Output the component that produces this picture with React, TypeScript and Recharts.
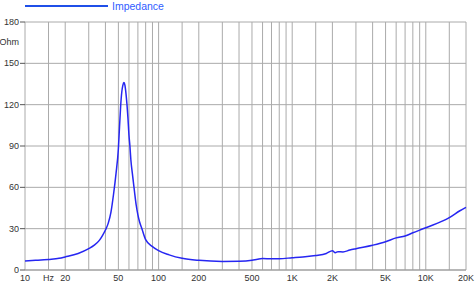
import { LineChart, Line, XAxis, YAxis, CartesianGrid } from "recharts";

// impedance response
const FREQS = [
  10, 12, 15, 18, 20, 25, 30, 33, 36, 38, 40, 42, 44, 46, 48, 50, 51, 52, 53, 54,
  55, 56, 57, 58, 59, 60, 61, 62, 64, 66, 68, 70, 72, 75, 80, 90, 100, 120, 150,
  200, 300, 400, 500, 550, 600, 700, 800, 1000, 1200, 1500, 1800, 2000, 2100,
  2200, 2400, 2700, 3000, 4000, 5000, 6000, 7000, 8000, 10000, 15000, 18000, 20000,
];
const IMPEDANCE = [
  6.5, 7.0, 7.7, 8.5, 9.5, 12.0, 15.5, 18, 21.5, 25, 29, 34, 42, 55, 70, 88, 104,
  119, 129, 134, 136, 134, 128, 120, 110, 98, 90, 80, 68, 57, 47, 40, 35, 30, 22,
  17, 14, 11, 8.5, 7, 6.2, 6.3, 7, 7.8, 8.3, 8.2, 8.2, 8.9, 9.5, 10.5, 12, 14,
  12.6, 13.3, 13.1, 14.5, 15.5, 18, 20.5, 23.3, 24.7, 27, 30.7, 38, 43, 45.5,
];

const X_TICKS = [
  10, 15, 20, 30, 40, 50, 60, 70, 80, 90, 100, 150, 200, 300, 400, 500, 600, 700,
  800, 900, 1000, 1500, 2000, 3000, 4000, 5000, 6000, 7000, 8000, 9000, 10000,
  15000, 20000,
];
const X_LABELS: Record<number, string> = {
  10: "10", 15: "Hz", 20: "20", 50: "50", 100: "100", 200: "200", 500: "500",
  1000: "1K", 2000: "2K", 5000: "5K", 10000: "10K", 20000: "20K",
};
const Y_TICKS = [0, 30, 60, 90, 120, 150, 180];

const data = FREQS.map((f, i) => ({ f, z: IMPEDANCE[i] }));

const FONT = '"Liberation Sans", Arial, sans-serif';
const CURVE = "#2626f2";

const XTick = ({ x, y, payload }: any) => {
  const label = X_LABELS[payload.value];
  if (!label) return <g />;
  return (
    <text x={x} y={y + 11} textAnchor="middle" fontSize={9} fill="#333" fontFamily={FONT}>
      {label}
    </text>
  );
};

const YTick = ({ x, y, payload }: any) => (
  <g>
    <text x={x} y={y} dy="0.35em" textAnchor="end" fontSize={9} fill="#333" fontFamily={FONT}>
      {payload.value}
    </text>
    {payload.value === 180 && (
      <text x={x} y={y + 20} dy="0.35em" textAnchor="end" fontSize={9} fill="#333" fontFamily={FONT}>
        Ohm
      </text>
    )}
  </g>
);

export default function App() {
  return (
    <div style={{ position: "relative", width: 475, height: 283 }}>
      <style>{"body{margin:0}"}</style>
      <svg width={475} height={14} style={{ position: "absolute", top: 0, left: 0 }}>
        <line x1={25} y1={6} x2={108} y2={6} stroke="#1f4fe8" strokeWidth={2} />
        <text x={112} y={6} dy="0.35em" fontSize={10.5} fill="#2f5cff" fontFamily={FONT}>
          Impedance
        </text>
      </svg>
      <LineChart width={475} height={283} data={data} margin={{ top: 22, right: 9, bottom: 0, left: 0 }}>
        <CartesianGrid stroke="#aaa" strokeWidth={1} />
        <XAxis
          dataKey="f"
          type="number"
          scale="log"
          domain={[10, 20000]}
          ticks={X_TICKS}
          interval={0}
          height={13}
          tickSize={0}
          tickMargin={0}
          tickLine={false}
          axisLine={{ stroke: "#999" }}
          tick={<XTick />}
        />
        <YAxis
          type="number"
          domain={[0, 180]}
          ticks={Y_TICKS}
          interval={0}
          width={25}
          tickSize={5}
          tickMargin={1}
          tickLine={{ stroke: "#555" }}
          axisLine={false}
          tick={<YTick />}
        />
        <Line
          dataKey="z"
          type="monotone"
          stroke={CURVE}
          strokeWidth={1.5}
          dot={false}
          isAnimationActive={false}
        />
      </LineChart>
    </div>
  );
}
